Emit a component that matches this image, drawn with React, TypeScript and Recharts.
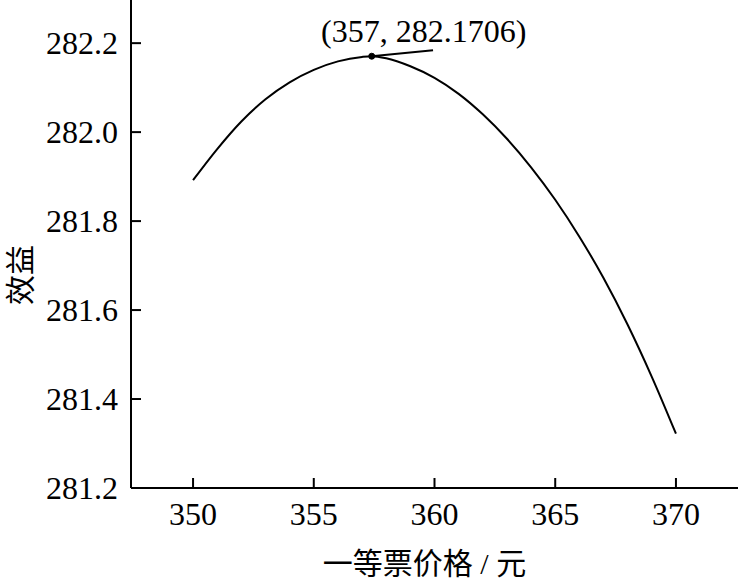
import {
  LineChart,
  Line,
  XAxis,
  YAxis,
  ReferenceDot,
  ReferenceLine,
} from 'recharts';

const prices = [350, 351, 352, 353, 354, 355, 356, 357, 357.4, 358, 359, 360, 361, 362, 363, 364, 365, 366, 367, 368, 369, 370];
const benefits = [
  281.892, 281.962, 282.024, 282.074, 282.112, 282.14, 282.159, 282.169, 282.1706, 282.166, 282.148,
  282.122, 282.086, 282.04, 281.985, 281.921, 281.848, 281.765, 281.672, 281.567, 281.45, 281.322,
];
const xTicks = [350, 355, 360, 365, 370];
const yTicks = [281.2, 281.4, 281.6, 281.8, 282.0, 282.2];
const peak = { x: 357.4, y: 282.1706, label: '(357, 282.1706)' };
const peakLineEnd = { x: 359.94, y: 282.184 };
const xTitle = '一等票价格 / 元';
const yTitle = '效益';

const data = prices.map((p, i) => ({ price: p, benefit: benefits[i] }));

const FONT = '"Liberation Serif", "Noto Sans CJK SC", serif';

const XTick = ({ x, y, payload }: any) => (
  <g>
    <line x1={x} y1={y} x2={x} y2={y - 10} stroke="#000" strokeWidth={2} />
    <text x={x} y={y + 37} textAnchor="middle" fontSize={32} fontFamily={FONT} fill="#000">
      {payload.value}
    </text>
  </g>
);

const YTick = ({ x, y, payload }: any) => (
  <g>
    <line x1={x} y1={y} x2={x + 10} y2={y} stroke="#000" strokeWidth={2} />
    <text x={x - 13} y={y + 11} textAnchor="end" fontSize={32} fontFamily={FONT} fill="#000">
      {Number(payload.value).toFixed(1)}
    </text>
  </g>
);

const PeakLabel = ({ viewBox }: any) => {
  const cx = viewBox.x + viewBox.width / 2;
  const cy = viewBox.y + viewBox.height / 2;
  return (
    <text x={cx + 52} y={cy - 14} textAnchor="middle" fontSize={32} fontFamily={FONT} fill="#000">
      {peak.label}
    </text>
  );
};

// axis titles placed by hand, recharts' insideLeft/insideBottom push them off the edge
const XTitle = ({ viewBox }: any) => (
  <text
    x={viewBox.x + viewBox.width / 2 - 10}
    y={563}
    textAnchor="middle"
    dominantBaseline="central"
    fontSize={30}
    fontFamily={FONT}
    fill="#000"
  >
    {xTitle}
  </text>
);

const YTitle = () => (
  <text
    x={20}
    y={275}
    transform="rotate(-90 20 275)"
    textAnchor="middle"
    dominantBaseline="central"
    fontSize={30}
    fontFamily={FONT}
    fill="#000"
  >
    {yTitle}
  </text>
);

export default function App() {
  return (
    <div style={{ position: 'absolute', left: 0, top: 0, width: 738, height: 578, background: '#fff' }}>
      <LineChart width={738} height={578} data={data} margin={{ top: 0, right: 0, left: 0, bottom: 0 }}>
        <XAxis
          type="number"
          dataKey="price"
          domain={[347.43, 372.57]}
          ticks={xTicks}
          allowDataOverflow
          height={90}
          tickSize={0}
          tickMargin={0}
          tickLine={false}
          tick={<XTick />}
          axisLine={{ stroke: '#000', strokeWidth: 2 }}
          label={<XTitle />}
        />
        <YAxis
          type="number"
          domain={[281.2, 282.297]}
          ticks={yTicks}
          allowDataOverflow
          width={131}
          tickSize={0}
          tickMargin={0}
          tickLine={false}
          tick={<YTick />}
          axisLine={{ stroke: '#000', strokeWidth: 2 }}
          label={<YTitle />}
        />
        <Line
          type="monotone"
          dataKey="benefit"
          stroke="#000"
          strokeWidth={2}
          dot={false}
          activeDot={false}
          isAnimationActive={false}
        />
        <ReferenceLine
          segment={[
            { x: peak.x, y: peak.y },
            { x: peakLineEnd.x, y: peakLineEnd.y },
          ]}
          stroke="#000"
          strokeWidth={2}
        />
        <ReferenceDot x={peak.x} y={peak.y} r={3} fill="#000" stroke="#000" label={<PeakLabel />} />
      </LineChart>
    </div>
  );
}
